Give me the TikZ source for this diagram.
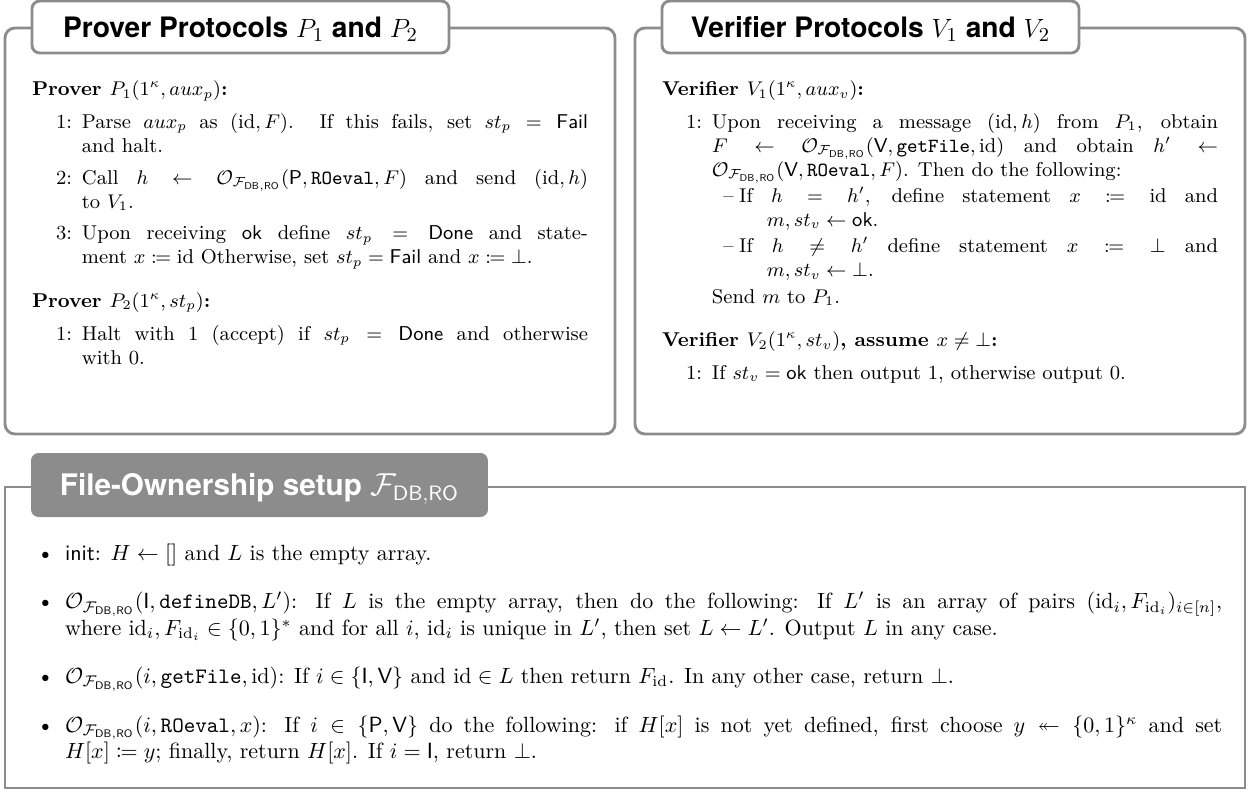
\documentclass[tikz,border=0pt]{standalone}
\usepackage{amsmath,amssymb,mathtools}
\usepackage{enumitem}
\usepackage{fontspec}
\newfontfamily\headfont{TeX Gyre Heros}
\usetikzlibrary{fit,positioning}

\definecolor{framegray}{RGB}{140,140,140}
\newcommand{\Fdbro}{\mathcal{F}_{\mathsf{DB,RO}}}
\newcommand{\Ofn}{\mathcal{O}_{\Fdbro}}
\setlist[enumerate]{label=\arabic*:, leftmargin=22.7pt, labelsep=4.5pt, topsep=4pt, itemsep=3.5pt, parsep=0pt, partopsep=0pt}

\begin{document}
\begin{tikzpicture}[x=0.4545pt, y=-0.4545pt]
    \tikzstyle{every node} = [inner sep=0pt, outer sep=0pt]
    \tikzstyle{frame} = [draw=framegray, line width=1.3pt, rounded corners=4.5pt]
    \tikzstyle{headbox} = [draw=framegray, fill=white, line width=1.3pt, rounded corners=3.5pt, anchor=west, minimum width=189.5pt, minimum height=23.6pt, font=\headfont\bfseries\fontsize{12.8}{15}\selectfont, text height=9.2pt, text depth=0pt]
    \tikzstyle{darkhead} = [fill=framegray, rounded corners=3.5pt, anchor=west, minimum width=207.7pt, minimum height=29.1pt, text=white, font=\headfont\bfseries\fontsize{13.5}{16}\selectfont, text height=9.7pt, text depth=0pt]
    \tikzstyle{body} = [anchor=north west, align=justify]
    \useasboundingbox (0,0) rectangle (1252,791);

    % frames
    \node[frame, fit={(5,28) (615,434)}] (pframe) {};
    \node[frame, fit={(635,28) (1245,434)}] (vframe) {};
    \node[frame, sharp corners, fit={(5,487) (1245,788)}] (fframe) {};

    % titles
    \node[headbox] (ptitle) at (32,27) {Prover Protocols $P_1$ and $P_2$};
    \node[headbox] (vtitle) at (662,27) {Verifier Protocols $V_1$ and $V_2$};
    \node[darkhead] (ftitle) at (31,485) {File-Ownership setup $\Fdbro$};

    % prover
    \node[body, text width=252.7pt, font=\fontsize{9.1}{10.9}\selectfont] (pbody) at (32,81) {%
    \textbf{Prover $P_1(1^\kappa, aux_p)$:}
    \begin{enumerate}
    \item Parse $aux_p$ as $(\mathrm{id},F)$. If this fails, set $st_p = \mathsf{Fail}$ \linebreak and halt.
    \item Call $h \leftarrow \Ofn(\mathsf{P},\mathtt{ROeval},F)$ and send $(\mathrm{id},h)$ \linebreak to $V_1$.
    \item Upon receiving $\mathsf{ok}$ define $st_p = \mathsf{Done}$ and state-\linebreak ment $x \coloneqq \mathrm{id}$ Otherwise, set $st_p = \mathsf{Fail}$ and $x \coloneqq \bot$.
    \end{enumerate}
    \vspace{5pt}
    \textbf{Prover $P_2(1^\kappa, st_p)$:}
    \begin{enumerate}
    \item Halt with 1 (accept) if $st_p = \mathsf{Done}$ and otherwise \linebreak with 0.
    \end{enumerate}};

    % verifier
    \node[body, text width=252.7pt, font=\fontsize{9.1}{10.9}\selectfont] (vbody) at (662,81) {%
    \textbf{Verifier $V_1(1^\kappa, aux_v)$:}
    \begin{enumerate}
    \item Upon receiving a message $(\mathrm{id},h)$ from $P_1$, obtain \linebreak
    $F \leftarrow \Ofn(\mathsf{V},\mathtt{getFile},\mathrm{id})$ and obtain $h' \leftarrow$ \linebreak
    $\Ofn(\mathsf{V},\mathtt{ROeval},F)$. Then do the following:
    \begin{itemize}[label=\textendash, leftmargin=25pt, itemindent=-12.7pt, labelsep=2.5pt, labelwidth=4.6pt, align=left, topsep=1pt, itemsep=1pt, parsep=0pt]
    \item If $h = h'$, define statement $x \coloneqq \mathrm{id}$ and \linebreak $m, st_v \leftarrow \mathsf{ok}$.
    \item If $h \neq h'$ define statement $x \coloneqq \bot$ and \linebreak $m, st_v \leftarrow \bot$.
    \end{itemize}
    Send $m$ to $P_1$.
    \end{enumerate}
    \vspace{5pt}
    \textbf{Verifier $V_2(1^\kappa, st_v)$, assume $x \neq \bot$:}
    \begin{enumerate}
    \item If $st_v = \mathsf{ok}$ then output 1, otherwise output 0.
    \end{enumerate}};

    % file-ownership setup
    \node[body, text width=541pt] (fbody) at (32,534) {%
    \begin{itemize}[leftmargin=15pt, labelsep=5pt, topsep=0pt, itemsep=10pt, parsep=0pt]
    \item $\mathsf{init}$: $H \leftarrow []$ and $L$ is the empty array.
    \item $\Ofn(\mathsf{I},\mathtt{defineDB},L')$: If $L$ is the empty array, then do the following: If $L'$ is an array of pairs $(\mathrm{id}_i, F_{\mathrm{id}_i})_{i\in[n]}$, \linebreak where $\mathrm{id}_i, F_{\mathrm{id}_i} \in \{0,1\}^*$ and for all $i$, $\mathrm{id}_i$ is unique in $L'$, then set $L \leftarrow L'$. Output $L$ in any case.
    \item $\Ofn(i,\mathtt{getFile},\mathrm{id})$: If $i \in \{\mathsf{I},\mathsf{V}\}$ and $\mathrm{id} \in L$ then return $F_{\mathrm{id}}$. In any other case, return $\bot$.
    \item $\Ofn(i,\mathtt{ROeval},x)$: If $i \in \{\mathsf{P},\mathsf{V}\}$ do the following: if $H[x]$ is not yet defined, first choose $y \twoheadleftarrow \{0,1\}^\kappa$ and set \linebreak $H[x] \coloneqq y$; finally, return $H[x]$. If $i = \mathsf{I}$, return $\bot$.
    \end{itemize}};
\end{tikzpicture}
\end{document}
